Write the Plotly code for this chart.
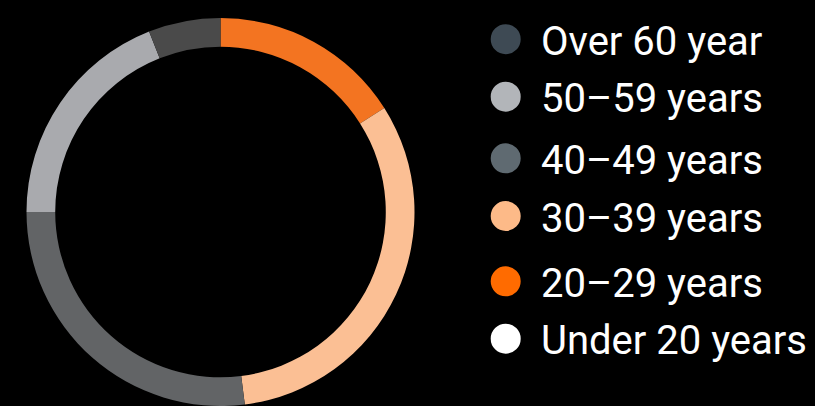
import plotly.graph_objects as go

# Age distribution (share of respondents, %), youngest group first
age_groups = ["Under 20 years", "20–29 years", "30–39 years", "40–49 years", "50–59 years", "Over 60 year"]
shares = [0, 16, 32, 27, 19, 6]
slice_colors = ["#ffffff", "#f37421", "#fbbf94", "#626466", "#a9aaae", "#4a4a4a"]
legend_colors = ["#ffffff", "#ff6b00", "#fdba88", "#5f6a71", "#b2b5b9", "#3e4a54"]

W, H = 815, 406

fig = go.Figure(
    go.Pie(
        labels=age_groups,
        values=shares,
        hole=0.852,
        sort=False,
        direction="clockwise",
        rotation=0,
        marker=dict(colors=slice_colors, line=dict(width=0)),
        textinfo="none",
        hoverinfo="label+percent",
        showlegend=False,
        domain=dict(x=[26.5 / W, 414.5 / W], y=[0, 388 / H]),
    )
)

# Hand-built legend (oldest group on top): large circular swatches with labels
legend_y = [39.2, 96.7, 158.3, 216.0, 281.3, 338.7]
marker_x, marker_r = 505.7, 15
text_x = 539

shapes = []
annotations = []
for label, color, py in zip(age_groups[::-1], legend_colors[::-1], legend_y):
    shapes.append(dict(
        type="circle", xref="paper", yref="paper",
        x0=(marker_x - marker_r) / W, x1=(marker_x + marker_r) / W,
        y0=1 - (py + marker_r) / H, y1=1 - (py - marker_r) / H,
        fillcolor=color, line=dict(width=0),
    ))
    annotations.append(dict(
        text=label, xref="paper", yref="paper",
        x=text_x / W, y=1 - (py + 2) / H,
        xanchor="left", yanchor="middle", showarrow=False,
        font=dict(family="Roboto", size=40, color="#ffffff"),
    ))

fig.update_layout(
    width=W, height=H,
    margin=dict(l=0, r=0, t=0, b=0),
    paper_bgcolor="#000000",
    plot_bgcolor="#000000",
    shapes=shapes,
    annotations=annotations,
)

fig.write_html("out.html")
